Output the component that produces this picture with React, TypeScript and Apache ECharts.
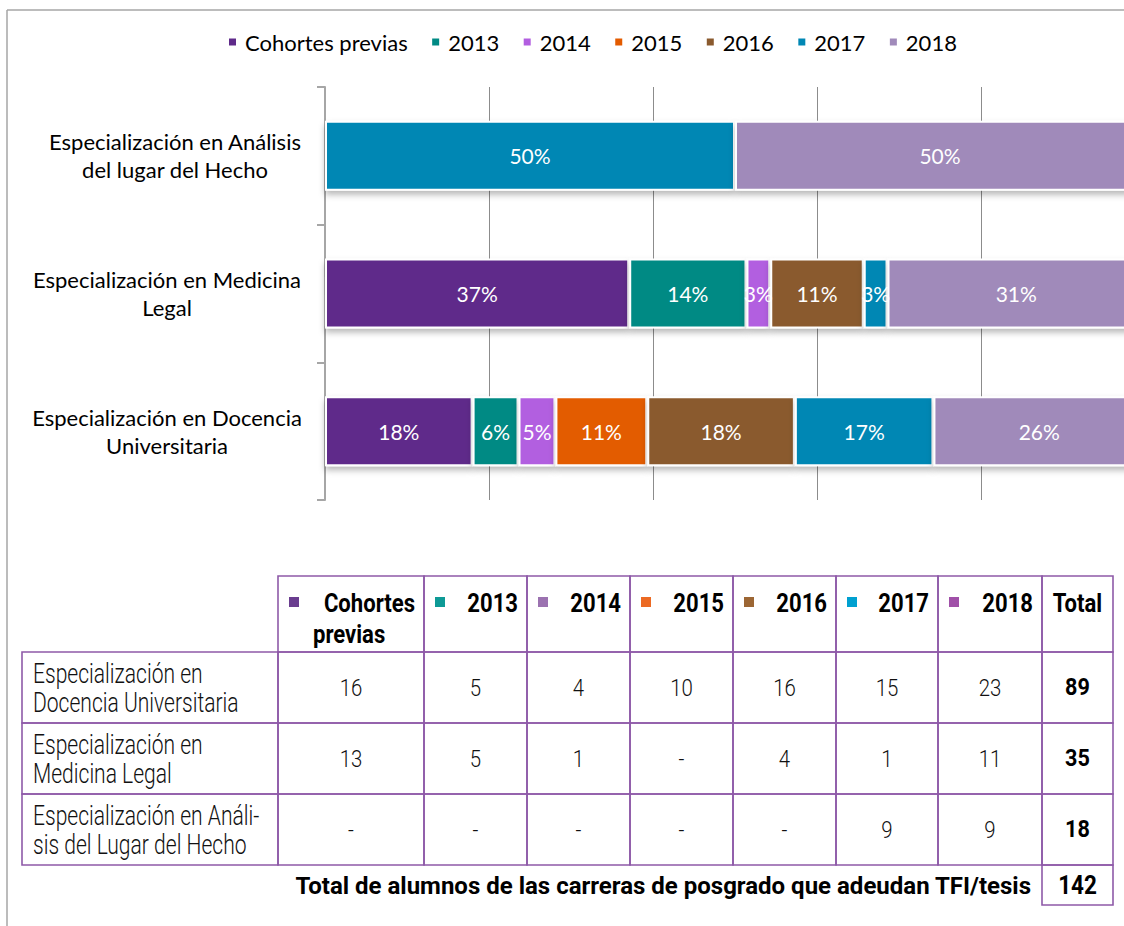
import React, { useEffect, useRef } from "react";
import * as echarts from "echarts";

// ---------- Chart data ----------
const categories = [
  "Especialización en Docencia\nUniversitaria",
  "Especialización en Medicina\nLegal",
  "Especialización en Análisis\ndel lugar del Hecho",
];
const seriesNames = ["Cohortes previas", "2013", "2014", "2015", "2016", "2017", "2018"];
// percentages per category (Docencia, Medicina, Análisis)
const pctCohortes = [18.0, 37.1, null];
const pct2013 = [5.6, 14.3, null];
const pct2014 = [4.5, 2.9, null];
const pct2015 = [11.2, null, null];
const pct2016 = [18.0, 11.4, null];
const pct2017 = [16.9, 2.9, 50];
const pct2018 = [25.8, 31.4, 50];
const seriesValues = [pctCohortes, pct2013, pct2014, pct2015, pct2016, pct2017, pct2018];
const seriesColors = ["#5f2a8a", "#008a84", "#b25ee0", "#e35b00", "#8a5a2e", "#0087b4", "#a08aba"];

// ---------- Table data ----------
const tableHeaders = ["Cohortes", "2013", "2014", "2015", "2016", "2017", "2018", "Total"];
const tableHeaderColors = ["#6a3d8f", "#0e9a96", "#9b72b0", "#ec6a23", "#9c6634", "#00a0d0", "#a050a8"];
const tableRowLabels = [
  "Especialización en\nDocencia Universitaria",
  "Especialización en\nMedicina Legal",
  "Especialización en Análi-\nsis del Lugar del Hecho",
];
const countsDocencia = [16, 5, 4, 10, 16, 15, 23];
const countsMedicina = [13, 5, 1, null, 4, 1, 11];
const countsAnalisis = [null, null, null, null, null, 9, 9];
const tableCounts = [countsDocencia, countsMedicina, countsAnalisis];
const rowTotals = [89, 35, 18];
const grandTotalLabel = "Total de alumnos de las carreras de posgrado que adeudan TFI/tesis";
const grandTotal = 142;

const CHART_FONT = "Lato, 'Open Sans', sans-serif";
const TABLE_FONT = "Roboto, 'Liberation Sans', sans-serif";

function txt(
  text: string, x: number, y: number, align: string, size: number, weight: string,
  sx: number, extra: any = {}
) {
  return {
    type: "text",
    x, y, scaleX: sx, scaleY: 1,
    style: {
      text, x: 0, y: 0, align, verticalAlign: "middle",
      fontFamily: TABLE_FONT, fontSize: size, fontWeight: weight, fill: "#111",
      ...extra,
    },
  };
}

export default function App() {
  const ref = useRef<HTMLDivElement>(null);
  useEffect(() => {
    document.body.style.margin = "0";
    if (!ref.current) return;
    const chart = echarts.init(ref.current, null, { renderer: "svg" });

    const series = seriesNames.map((name, i) => ({
      name,
      type: "bar",
      stack: "total",
      barWidth: 70,
      data: seriesValues[i],
      itemStyle: {
        color: seriesColors[i],
        borderColor: "#ffffff",
        borderWidth: 2,
        shadowColor: "rgba(0,0,0,0.28)",
        shadowBlur: 6,
        shadowOffsetY: 4,
      },
      label: {
        show: true,
        position: "inside",
        color: "#ffffff",
        fontSize: 21,
        fontFamily: CHART_FONT,
        formatter: (p: any) => (p.value == null ? "" : Math.round(p.value) + "%"),
      },
    }));

    // ----- table graphics -----
    const colX = [22, 278, 424, 527, 630, 733, 836, 938, 1042, 1113];
    const rowY = [576, 652, 723, 794, 865];
    const border = "#8e5aa8";
    const g: any[] = [];
    // frame
    g.push({ type: "line", shape: { x1: 7, y1: 10, x2: 1124, y2: 10 }, style: { stroke: "#a6a6a6", lineWidth: 1.5 } });
    g.push({ type: "line", shape: { x1: 7, y1: 10, x2: 7, y2: 926 }, style: { stroke: "#a6a6a6", lineWidth: 1.5 } });

    // header cells
    for (let c = 1; c <= 8; c++) {
      const x0 = colX[c], x1 = colX[c + 1];
      g.push({
        type: "rect",
        shape: { x: x0, y: rowY[0], width: x1 - x0, height: rowY[1] - rowY[0] },
        style: { fill: "none", stroke: border, lineWidth: 1.6 },
      });
      const label = tableHeaders[c - 1];
      if (c <= 7) {
        g.push({
          type: "rect",
          shape: { x: x0 + 11, y: 597, width: 10, height: 10 },
          style: { fill: tableHeaderColors[c - 1] },
        });
        g.push(txt(label, x1 - 9, 603, "right", 26, "bold", 0.85, { fill: "#000" }));
        if (c === 1) {
          g.push(txt("previas", x0 + 35, 634, "left", 26, "bold", 0.85, { fill: "#000" }));
        }
      } else {
        g.push(txt(label, (x0 + x1) / 2, 603, "center", 26, "bold", 0.85, { fill: "#000" }));
      }
    }

    // body rows
    for (let r = 0; r < 3; r++) {
      const y0 = rowY[r + 1], y1 = rowY[r + 2];
      const cy = (y0 + y1) / 2;
      for (let c = 0; c <= 8; c++) {
        const x0 = colX[c], x1 = colX[c + 1];
        g.push({
          type: "rect",
          shape: { x: x0, y: y0, width: x1 - x0, height: y1 - y0 },
          style: { fill: "none", stroke: border, lineWidth: 1.6 },
        });
        if (c === 0) {
          g.push(txt(tableRowLabels[r], x0 + 11, cy + 1, "left", 27, "300", 0.78, { lineHeight: 29 }));
        } else if (c <= 7) {
          const v = tableCounts[r][c - 1];
          g.push(txt(v == null ? "-" : String(v), (x0 + x1) / 2, cy, "center", 24, "300", 0.85));
        } else {
          g.push(txt(String(rowTotals[r]), (x0 + x1) / 2, cy, "center", 24, "bold", 0.9, { fill: "#000" }));
        }
      }
    }
    // grand total
    g.push({
      type: "rect",
      shape: { x: colX[8], y: rowY[4], width: colX[9] - colX[8], height: 40 },
      style: { fill: "none", stroke: border, lineWidth: 1.6 },
    });
    g.push(txt(String(grandTotal), (colX[8] + colX[9]) / 2, 886, "center", 25, "bold", 0.9, { fill: "#000" }));
    g.push(txt(grandTotalLabel, 1031, 886, "right", 24, "bold", 1, { fill: "#000" }));

    chart.setOption({
      animation: false,
      backgroundColor: "#ffffff",
      legend: {
        top: 26,
        left: 222,
        itemWidth: 9,
        itemHeight: 9,
        itemGap: 22.5,
        icon: "rect",
        data: seriesNames,
        textStyle: { fontFamily: CHART_FONT, fontSize: 22, color: "#000", padding: [0, 0, 0, 3] },
      },
      grid: { left: 325, right: -21, top: 87, bottom: 426, containLabel: false, outerBoundsMode: "none" },
      xAxis: {
        type: "value",
        min: 0,
        max: 100,
        interval: 20,
        axisLabel: { show: false },
        axisLine: { show: false },
        axisTick: { show: false },
        splitLine: { show: true, lineStyle: { color: "#8c8c8c", width: 1 } },
      },
      yAxis: {
        type: "category",
        data: categories.map((c, i) =>
          i === 2
            ? { value: c, textStyle: { align: "center", padding: [0, 0, 0, 16] } }
            : { value: c }
        ),
        axisLine: { show: true, lineStyle: { color: "#a6a6a6", width: 2 } },
        axisTick: { show: true, length: 8, lineStyle: { color: "#a6a6a6", width: 2 } },
        axisLabel: {
          margin: 158,
          align: "center",
          fontFamily: CHART_FONT,
          fontSize: 22,
          lineHeight: 28,
          color: "#000",
        },
      },
      series,
      graphic: g,
    });
    return () => chart.dispose();
  }, []);
  return <div ref={ref} style={{ width: 1124, height: 926 }} />;
}
